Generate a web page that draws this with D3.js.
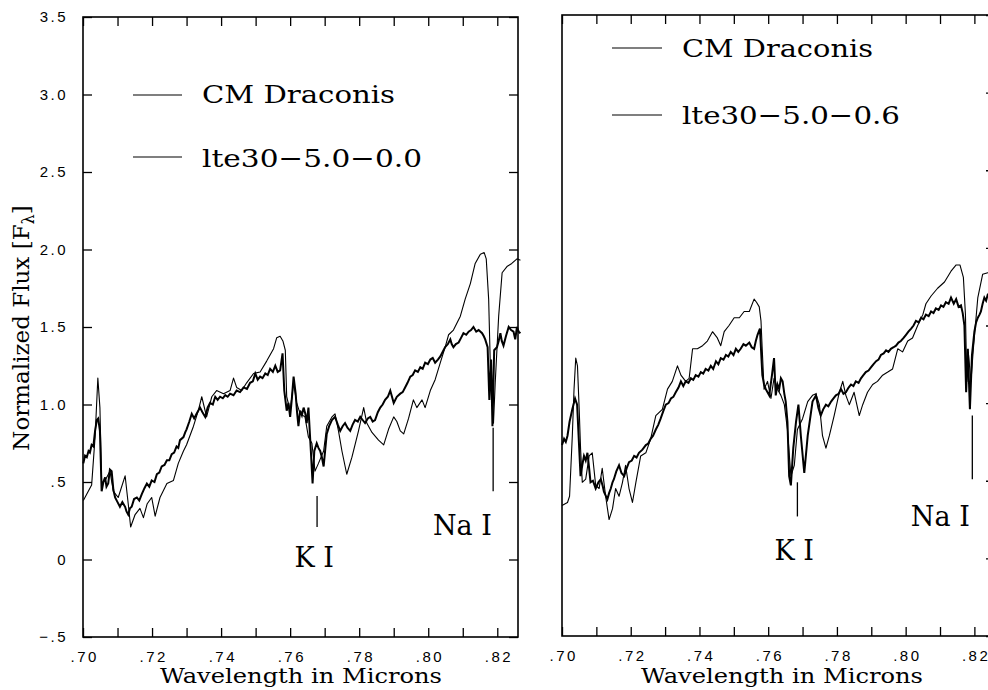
<!DOCTYPE html>
<html><head><meta charset="utf-8">
<script src="https://cdn.jsdelivr.net/npm/d3@7"></script>
<style>
body{margin:0;background:#fff;}
svg{display:block;}
.tick text{font-family:"Liberation Sans",Arial,sans-serif;fill:#000;}
</style>
</head><body>
<svg id="chart" width="988" height="690"></svg>
<script>
// ---------- data ----------
const xTicks = [0.70,0.71,0.72,0.73,0.74,0.75,0.76,0.77,0.78,0.79,0.80,0.81,0.82];
const xTickLabels = [".70","",".72","",".74","",".76","",".78","",".80","",".82"];
const yTicks = [-0.5,0,0.5,1.0,1.5,2.0,2.5,3.0,3.5];
const yTickLabels = ["\u2212.5","0",".5","1.0","1.5","2.0","2.5","3.0","3.5"];

// Left panel: CM Draconis observed [wavelength, flux]
const leftObs = [[0.7001,0.62],[0.7006,0.67],[0.7011,0.66],[0.7016,0.70],[0.7020,0.69],[0.7025,0.74],[0.7030,0.73],[0.7035,0.83],[0.7040,0.90],[0.7044,0.91],[0.7049,0.83],[0.7054,0.44],[0.7059,0.50],[0.7064,0.53],[0.7068,0.47],[0.7073,0.49],[0.7078,0.58],[0.7083,0.57],[0.7088,0.45],[0.7093,0.40],[0.7100,0.37],[0.7107,0.34],[0.7114,0.37],[0.7122,0.34],[0.7126,0.31],[0.7131,0.29],[0.7136,0.33],[0.7141,0.34],[0.7148,0.39],[0.7156,0.40],[0.7163,0.38],[0.7170,0.42],[0.7178,0.46],[0.7185,0.49],[0.7192,0.47],[0.7199,0.51],[0.7207,0.50],[0.7214,0.55],[0.7221,0.56],[0.7228,0.60],[0.7236,0.61],[0.7243,0.64],[0.7250,0.64],[0.7257,0.68],[0.7264,0.69],[0.7271,0.73],[0.7276,0.72],[0.7281,0.77],[0.7291,0.79],[0.7296,0.82],[0.7300,0.84],[0.7308,0.89],[0.7315,0.94],[0.7322,0.91],[0.7329,0.94],[0.7339,0.98],[0.7346,0.95],[0.7354,0.92],[0.7361,0.98],[0.7368,1.01],[0.7376,1.00],[0.7383,1.05],[0.7390,1.03],[0.7397,1.05],[0.7405,1.04],[0.7412,1.06],[0.7419,1.05],[0.7426,1.07],[0.7436,1.06],[0.7445,1.09],[0.7455,1.08],[0.7465,1.11],[0.7475,1.10],[0.7484,1.14],[0.7492,1.15],[0.7499,1.20],[0.7506,1.16],[0.7513,1.18],[0.7520,1.17],[0.7528,1.20],[0.7535,1.19],[0.7542,1.23],[0.7550,1.21],[0.7557,1.25],[0.7564,1.21],[0.7571,1.22],[0.7578,1.33],[0.7583,1.09],[0.7590,0.96],[0.7595,1.01],[0.7600,0.92],[0.7605,1.04],[0.7610,1.18],[0.7616,1.07],[0.7620,0.95],[0.7624,0.86],[0.7629,0.96],[0.7634,0.93],[0.7639,0.98],[0.7644,0.94],[0.7648,0.88],[0.7653,0.98],[0.7660,0.70],[0.7665,0.49],[0.7670,0.70],[0.7677,0.75],[0.7682,0.72],[0.7687,0.70],[0.7692,0.66],[0.7697,0.60],[0.7706,0.81],[0.7713,0.86],[0.7721,0.90],[0.7730,0.92],[0.7738,0.87],[0.7745,0.83],[0.7752,0.86],[0.7759,0.88],[0.7766,0.85],[0.7774,0.83],[0.7781,0.87],[0.7788,0.90],[0.7796,0.89],[0.7803,0.92],[0.7810,0.90],[0.7817,0.88],[0.7825,0.91],[0.7832,0.92],[0.7839,0.89],[0.7846,0.90],[0.7854,0.95],[0.7861,0.98],[0.7868,1.00],[0.7875,1.03],[0.7883,1.05],[0.7890,1.09],[0.7895,1.05],[0.7900,1.01],[0.7909,1.05],[0.7919,1.07],[0.7926,1.08],[0.7933,1.11],[0.7940,1.14],[0.7948,1.18],[0.7955,1.19],[0.7962,1.22],[0.7970,1.21],[0.7977,1.24],[0.7984,1.23],[0.7991,1.27],[0.7999,1.26],[0.8006,1.29],[0.8013,1.30],[0.8020,1.27],[0.8028,1.29],[0.8035,1.31],[0.8042,1.34],[0.8049,1.37],[0.8057,1.39],[0.8064,1.42],[0.8068,1.39],[0.8073,1.37],[0.8080,1.39],[0.8088,1.40],[0.8095,1.43],[0.8102,1.46],[0.8110,1.45],[0.8117,1.47],[0.8124,1.48],[0.8131,1.50],[0.8139,1.47],[0.8146,1.48],[0.8156,1.46],[0.8161,1.44],[0.8165,1.42],[0.8172,1.37],[0.8177,1.03],[0.8182,1.29],[0.8186,0.86],[0.8191,1.35],[0.8199,1.37],[0.8204,1.41],[0.8209,1.46],[0.8213,1.41],[0.8218,1.38],[0.8225,1.44],[0.8233,1.50],[0.8240,1.48],[0.8247,1.47],[0.8252,1.42],[0.8257,1.50],[0.8262,1.47],[0.8267,1.46]];

// Left panel: model lte30-5.0-0.0
const leftModel = [[0.7001,0.38],[0.7025,0.48],[0.7035,0.79],[0.7043,1.17],[0.7049,0.98],[0.7054,0.49],[0.7064,0.51],[0.7078,0.57],[0.7088,0.44],[0.7102,0.40],[0.7122,0.54],[0.7131,0.36],[0.7138,0.21],[0.7151,0.29],[0.7165,0.33],[0.7175,0.27],[0.7186,0.36],[0.7199,0.40],[0.7209,0.28],[0.7223,0.40],[0.7243,0.49],[0.7262,0.51],[0.7276,0.62],[0.7291,0.70],[0.7300,0.74],[0.7320,0.86],[0.7334,0.96],[0.7344,1.05],[0.7358,0.92],[0.7373,1.05],[0.7387,1.09],[0.7407,1.07],[0.7426,1.09],[0.7436,1.17],[0.7445,1.11],[0.7460,1.09],[0.7474,1.14],[0.7494,1.20],[0.7513,1.21],[0.7532,1.28],[0.7552,1.36],[0.7561,1.43],[0.7571,1.44],[0.7579,1.41],[0.7586,1.35],[0.7590,1.05],[0.7600,0.96],[0.7610,1.14],[0.7619,1.01],[0.7629,0.94],[0.7643,0.92],[0.7653,0.79],[0.7663,0.75],[0.7672,0.57],[0.7682,0.62],[0.7697,0.70],[0.7706,0.86],[0.7721,0.92],[0.7730,0.94],[0.7740,0.83],[0.7750,0.70],[0.7764,0.55],[0.7779,0.66],[0.7798,0.83],[0.7813,0.98],[0.7822,0.88],[0.7837,0.82],[0.7856,0.77],[0.7871,0.74],[0.7885,0.84],[0.7900,0.92],[0.7909,0.89],[0.7919,0.83],[0.7929,0.81],[0.7943,0.91],[0.7957,1.03],[0.7967,0.98],[0.7982,1.03],[0.7991,0.98],[0.8006,1.09],[0.8020,1.16],[0.8035,1.27],[0.8049,1.37],[0.8059,1.45],[0.8073,1.48],[0.8093,1.57],[0.8107,1.68],[0.8122,1.78],[0.8136,1.91],[0.8151,1.97],[0.8162,1.98],[0.8168,1.94],[0.8175,1.68],[0.8180,1.24],[0.8185,1.03],[0.8189,0.88],[0.8194,1.14],[0.8204,1.57],[0.8214,1.85],[0.8228,1.89],[0.8242,1.91],[0.8257,1.94],[0.8267,1.93]];

// Right panel: CM Draconis observed
const rightObs = [[0.7000,0.73],[0.7006,0.77],[0.7011,0.75],[0.7016,0.79],[0.7022,0.88],[0.7030,0.96],[0.7038,1.03],[0.7044,0.99],[0.7050,0.71],[0.7054,0.53],[0.7059,0.60],[0.7064,0.66],[0.7069,0.63],[0.7074,0.68],[0.7079,0.58],[0.7083,0.49],[0.7090,0.50],[0.7098,0.45],[0.7106,0.49],[0.7113,0.51],[0.7118,0.47],[0.7122,0.43],[0.7132,0.38],[0.7137,0.42],[0.7142,0.45],[0.7147,0.49],[0.7151,0.51],[0.7158,0.56],[0.7166,0.60],[0.7173,0.55],[0.7181,0.53],[0.7188,0.58],[0.7195,0.62],[0.7203,0.63],[0.7210,0.66],[0.7217,0.65],[0.7224,0.68],[0.7234,0.70],[0.7244,0.73],[0.7251,0.74],[0.7258,0.77],[0.7265,0.79],[0.7273,0.83],[0.7280,0.86],[0.7287,0.90],[0.7295,0.95],[0.7302,0.99],[0.7310,1.00],[0.7317,1.03],[0.7324,1.04],[0.7331,1.07],[0.7339,1.10],[0.7346,1.14],[0.7353,1.11],[0.7360,1.14],[0.7368,1.13],[0.7375,1.16],[0.7382,1.15],[0.7389,1.18],[0.7397,1.17],[0.7404,1.20],[0.7411,1.19],[0.7418,1.22],[0.7426,1.21],[0.7433,1.24],[0.7440,1.22],[0.7448,1.27],[0.7455,1.25],[0.7462,1.29],[0.7470,1.28],[0.7477,1.31],[0.7484,1.30],[0.7491,1.33],[0.7499,1.31],[0.7506,1.35],[0.7513,1.33],[0.7520,1.35],[0.7528,1.38],[0.7535,1.37],[0.7545,1.39],[0.7552,1.36],[0.7559,1.35],[0.7564,1.40],[0.7569,1.44],[0.7576,1.48],[0.7583,1.18],[0.7588,1.12],[0.7593,1.09],[0.7598,1.07],[0.7603,1.05],[0.7611,1.18],[0.7617,1.29],[0.7622,1.05],[0.7627,1.12],[0.7632,1.09],[0.7637,1.16],[0.7642,1.14],[0.7647,1.06],[0.7651,1.01],[0.7656,0.88],[0.7661,0.53],[0.7666,0.47],[0.7673,0.71],[0.7681,0.88],[0.7688,0.99],[0.7695,0.79],[0.7705,0.55],[0.7715,0.79],[0.7722,0.90],[0.7729,1.01],[0.7739,1.05],[0.7746,0.97],[0.7753,0.92],[0.7760,0.96],[0.7768,0.99],[0.7775,0.98],[0.7783,1.01],[0.7790,1.03],[0.7797,1.05],[0.7805,1.06],[0.7812,1.09],[0.7819,1.06],[0.7826,1.07],[0.7834,1.10],[0.7841,1.12],[0.7848,1.11],[0.7855,1.14],[0.7863,1.13],[0.7870,1.16],[0.7877,1.18],[0.7884,1.20],[0.7892,1.21],[0.7899,1.23],[0.7906,1.25],[0.7914,1.27],[0.7921,1.28],[0.7928,1.31],[0.7936,1.32],[0.7943,1.34],[0.7950,1.33],[0.7957,1.35],[0.7965,1.36],[0.7972,1.37],[0.7979,1.39],[0.7986,1.40],[0.7994,1.42],[0.8001,1.44],[0.8008,1.46],[0.8016,1.48],[0.8023,1.50],[0.8030,1.53],[0.8038,1.52],[0.8045,1.55],[0.8052,1.54],[0.8059,1.57],[0.8067,1.56],[0.8074,1.59],[0.8081,1.58],[0.8088,1.61],[0.8096,1.60],[0.8103,1.63],[0.8110,1.62],[0.8117,1.65],[0.8125,1.64],[0.8132,1.68],[0.8140,1.64],[0.8147,1.67],[0.8154,1.62],[0.8161,1.63],[0.8166,1.58],[0.8171,1.50],[0.8176,1.07],[0.8181,1.35],[0.8187,0.96],[0.8193,1.31],[0.8200,1.46],[0.8205,1.52],[0.8210,1.55],[0.8215,1.57],[0.8219,1.59],[0.8224,1.64],[0.8229,1.68],[0.8234,1.66],[0.8239,1.70],[0.8250,1.71],[0.8260,1.72]];

// Right panel: model lte30-5.0-0.6
const rightModel = [[0.7000,0.34],[0.7016,0.36],[0.7022,0.40],[0.7030,0.79],[0.7035,1.09],[0.7040,1.29],[0.7045,1.24],[0.7050,0.96],[0.7054,0.71],[0.7059,0.49],[0.7069,0.51],[0.7079,0.66],[0.7088,0.68],[0.7098,0.47],[0.7108,0.45],[0.7117,0.58],[0.7127,0.40],[0.7137,0.25],[0.7147,0.32],[0.7156,0.45],[0.7166,0.40],[0.7176,0.49],[0.7185,0.60],[0.7195,0.45],[0.7205,0.36],[0.7215,0.49],[0.7229,0.66],[0.7244,0.68],[0.7258,0.77],[0.7273,0.92],[0.7292,0.96],[0.7307,1.09],[0.7321,1.14],[0.7336,1.24],[0.7346,1.18],[0.7360,1.14],[0.7370,1.16],[0.7380,1.35],[0.7394,1.35],[0.7409,1.37],[0.7423,1.40],[0.7438,1.46],[0.7452,1.42],[0.7462,1.37],[0.7472,1.46],[0.7486,1.50],[0.7501,1.55],[0.7516,1.55],[0.7530,1.59],[0.7545,1.59],[0.7559,1.67],[0.7566,1.65],[0.7574,1.62],[0.7579,1.53],[0.7583,1.33],[0.7588,1.09],[0.7598,1.14],[0.7608,1.03],[0.7617,1.16],[0.7627,1.09],[0.7637,1.05],[0.7647,0.99],[0.7656,0.83],[0.7666,0.53],[0.7676,0.60],[0.7685,0.83],[0.7700,0.90],[0.7715,1.01],[0.7729,1.05],[0.7739,1.06],[0.7749,0.99],[0.7758,0.79],[0.7768,0.71],[0.7778,0.79],[0.7792,0.92],[0.7807,1.07],[0.7817,1.14],[0.7826,1.05],[0.7836,0.99],[0.7850,1.07],[0.7865,0.92],[0.7875,0.99],[0.7889,1.07],[0.7904,1.12],[0.7918,1.14],[0.7933,1.18],[0.7948,1.20],[0.7962,1.22],[0.7977,1.35],[0.7991,1.33],[0.8006,1.40],[0.8020,1.42],[0.8035,1.50],[0.8050,1.57],[0.8059,1.64],[0.8074,1.69],[0.8093,1.74],[0.8113,1.78],[0.8132,1.85],[0.8147,1.89],[0.8158,1.89],[0.8168,1.81],[0.8174,1.57],[0.8178,1.14],[0.8183,1.31],[0.8190,1.14],[0.8197,1.35],[0.8210,1.68],[0.8224,1.83],[0.8239,1.84],[0.8260,1.85]];

const legendNames = [["CM Draconis","lte30\u22125.0\u22120.0"],["CM Draconis","lte30\u22125.0\u22120.6"]];
// line markers: [wavelength, flux top, flux bottom]
const markers = [[[0.7678,0.41,0.21],[0.8188,0.85,0.44]],[[0.7685,0.49,0.27],[0.8194,0.92,0.51]]];
// line labels: [text, wavelength (centre), flux (baseline)]
const lineLabels = [[["K I",0.7670,-0.047],["Na I",0.8099,0.16]],[["K I",0.7676,-0.008],["Na I",0.8101,0.21]]];

// ---------- drawing ----------
const svg = d3.select("#chart");
const serif = '"DejaVu Serif", "Liberation Serif", serif';
const panels = [
  {x0:83, x1:518, y0:17, y1:637, obs:leftObs, model:leftModel, yLabels:true,
   leg:{lx0:133,lx1:182,ly:[95,157],tx:202,ty:[103,167],tw:[193,220]}, tx:301},
  {x0:562, x1:995, y0:15, y1:636, obs:rightObs, model:rightModel, yLabels:false,
   leg:{lx0:612,lx1:662,ly:[48,115],tx:682,ty:[57,124],tw:[191,218]}, tx:782}
];

panels.forEach((p,pi)=>{
  const x = d3.scaleLinear().domain([0.70,0.826]).range([p.x0,p.x1]);
  const y = d3.scaleLinear().domain([-0.5,3.5]).range([p.y1,p.y0]);
  const g = svg.append("g");
  const tl = 9;

  // bottom axis (ticks inward)
  const bottom = g.append("g").attr("transform",`translate(0,${p.y1})`)
    .call(d3.axisBottom(x).tickValues(xTicks).tickSize(-tl).tickPadding(tl+5)
      .tickFormat((d,i)=>xTickLabels[i]));
  bottom.select(".domain").remove();
  bottom.selectAll(".tick line").attr("stroke","#000").attr("stroke-width",1.3);
  bottom.selectAll(".tick text").style("font-size","15px").style("letter-spacing","2.5px")
    .attr("dx","1.2px");

  // top axis
  const top = g.append("g").attr("transform",`translate(0,${p.y0})`)
    .call(d3.axisTop(x).tickValues(xTicks).tickSize(-tl).tickFormat(""));
  top.select(".domain").remove();
  top.selectAll(".tick line").attr("stroke","#000").attr("stroke-width",1.3);

  // right axis ticks
  const right = g.append("g").attr("transform",`translate(${p.x1},0)`)
    .call(d3.axisRight(y).tickValues(yTicks).tickSize(-tl).tickFormat(""));
  right.select(".domain").remove();
  right.selectAll(".tick line").attr("stroke","#000").attr("stroke-width",1.3);

  if (p.yLabels) {
    const left = g.append("g").attr("transform",`translate(${p.x0},0)`)
      .call(d3.axisLeft(y).tickValues(yTicks).tickSize(-tl).tickPadding(tl+6)
        .tickFormat((d,i)=>yTickLabels[i]));
    left.select(".domain").remove();
    left.selectAll(".tick line").attr("stroke","#000").attr("stroke-width",1.3);
    left.selectAll(".tick text").style("font-size","15px").style("letter-spacing","2.5px");
  }

  // frame
  g.append("rect").attr("x",p.x0).attr("y",p.y0)
    .attr("width",p.x1-p.x0).attr("height",p.y1-p.y0)
    .attr("fill","none").attr("stroke","#000").attr("stroke-width",1.6);

  const line = d3.line().x(d=>x(d[0])).y(d=>y(d[1]));
  g.append("path").datum(p.model).attr("d",line)
    .attr("fill","none").attr("stroke","#000").attr("stroke-width",1.1).attr("stroke-linejoin","round");
  g.append("path").datum(p.obs).attr("d",line)
    .attr("fill","none").attr("stroke","#000").attr("stroke-width",2.0).attr("stroke-linejoin","miter");

  // markers
  markers[pi].forEach(m=>{
    g.append("line").attr("x1",x(m[0])).attr("x2",x(m[0]))
      .attr("y1",y(m[1])).attr("y2",y(m[2])).attr("stroke","#000").attr("stroke-width",1.3);
  });
  lineLabels[pi].forEach(l=>{
    g.append("text").attr("x",x(l[1])).attr("y",y(l[2])).attr("text-anchor","middle")
      .attr("font-family",serif).attr("font-size",27).attr("fill","#000").text(l[0]);
  });

  // legend
  legendNames[pi].forEach((name,i)=>{
    g.append("line").attr("x1",p.leg.lx0).attr("x2",p.leg.lx1)
      .attr("y1",p.leg.ly[i]).attr("y2",p.leg.ly[i]).attr("stroke","#000").attr("stroke-width",1.2);
    g.append("text").attr("x",p.leg.tx).attr("y",p.leg.ty[i])
      .attr("font-family",serif).attr("font-size",25).attr("fill","#000")
      .attr("textLength",p.leg.tw[i]).attr("lengthAdjust","spacingAndGlyphs").text(name);
  });

  // x title
  g.append("text").attr("x",p.tx).attr("y",683)
    .attr("text-anchor","middle").attr("font-family",serif).attr("font-size",21)
    .attr("textLength",282).attr("lengthAdjust","spacingAndGlyphs")
    .attr("fill","#000").text("Wavelength in Microns");
});

// y title
const yt = svg.append("text").attr("transform","translate(29,328) rotate(-90)")
  .attr("text-anchor","middle").attr("font-family",serif).attr("font-size",23)
  .attr("fill","#000");
yt.append("tspan").text("Normalized Flux [F");
yt.append("tspan").attr("font-size",16).attr("dy",5).text("\u03bb");
yt.append("tspan").attr("dy",-5).text("]");
</script>
</body></html>
